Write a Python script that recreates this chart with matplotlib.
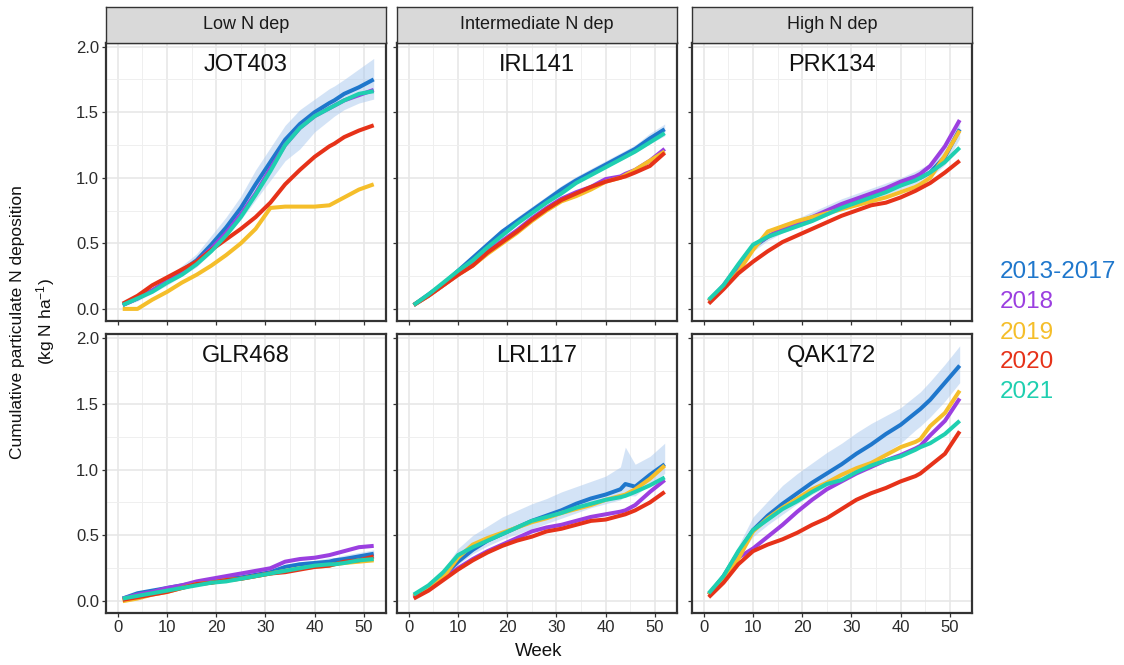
import numpy as np
import matplotlib.pyplot as plt
from matplotlib.ticker import MultipleLocator

plt.rcParams['font.family'] = ['Liberation Sans', 'DejaVu Sans']
plt.rcParams['mathtext.default'] = 'regular'

weeks = [1, 4, 7, 10, 13, 16, 19, 22, 25, 28, 31, 34, 37, 40, 43, 44, 46, 49, 52]

years = ['2013-2017', '2018', '2019', '2020', '2021']
year_colors = ['#1F77CC', '#9B3FE0', '#F5BE2A', '#E63219', '#1FCFB0']
strip_labels = ['Low N dep', 'Intermediate N dep', 'High N dep']
sites = [['JOT403', 'IRL141', 'PRK134'],
         ['GLR468', 'LRL117', 'QAK172']]

# JOT403
jot403_2013_2017 = [0.03, 0.08, 0.14, 0.21, 0.29, 0.37, 0.49, 0.62, 0.77, 0.95, 1.12, 1.29, 1.41, 1.50, 1.57, 1.59, 1.64, 1.69, 1.75]
jot403_2018 = [0.03, 0.08, 0.14, 0.21, 0.28, 0.36, 0.46, 0.58, 0.72, 0.88, 1.07, 1.25, 1.38, 1.47, 1.53, 1.55, 1.59, 1.63, 1.67]
jot403_2019 = [0.00, 0.00, 0.07, 0.13, 0.20, 0.26, 0.33, 0.41, 0.50, 0.61, 0.77, 0.78, 0.78, 0.78, 0.79, 0.81, 0.85, 0.91, 0.95]
jot403_2020 = [0.04, 0.10, 0.18, 0.24, 0.30, 0.36, 0.45, 0.53, 0.61, 0.70, 0.81, 0.95, 1.06, 1.16, 1.24, 1.26, 1.31, 1.36, 1.40]
jot403_2021 = [0.03, 0.08, 0.13, 0.20, 0.26, 0.34, 0.44, 0.56, 0.70, 0.87, 1.05, 1.25, 1.38, 1.47, 1.53, 1.55, 1.59, 1.64, 1.66]
jot403_lo = [0.02, 0.06, 0.12, 0.18, 0.25, 0.32, 0.43, 0.55, 0.68, 0.83, 0.98, 1.13, 1.22, 1.35, 1.44, 1.47, 1.52, 1.57, 1.60]
jot403_hi = [0.04, 0.10, 0.16, 0.24, 0.33, 0.42, 0.56, 0.70, 0.86, 1.06, 1.23, 1.40, 1.52, 1.60, 1.68, 1.70, 1.75, 1.83, 1.91]

# IRL141
irl141_2013_2017 = [0.03, 0.11, 0.19, 0.29, 0.39, 0.49, 0.59, 0.67, 0.75, 0.83, 0.91, 0.98, 1.04, 1.10, 1.16, 1.18, 1.22, 1.30, 1.37]
irl141_2018 = [0.03, 0.10, 0.18, 0.26, 0.34, 0.44, 0.52, 0.60, 0.69, 0.77, 0.84, 0.89, 0.93, 0.99, 1.01, 1.03, 1.06, 1.13, 1.22]
irl141_2019 = [0.03, 0.10, 0.18, 0.26, 0.33, 0.42, 0.50, 0.58, 0.67, 0.75, 0.82, 0.86, 0.91, 0.97, 1.00, 1.02, 1.06, 1.13, 1.20]
irl141_2020 = [0.03, 0.10, 0.18, 0.26, 0.33, 0.43, 0.51, 0.59, 0.68, 0.76, 0.83, 0.88, 0.93, 0.97, 1.00, 1.01, 1.04, 1.09, 1.19]
irl141_2021 = [0.03, 0.11, 0.20, 0.29, 0.37, 0.47, 0.56, 0.65, 0.73, 0.81, 0.88, 0.96, 1.02, 1.08, 1.14, 1.16, 1.20, 1.27, 1.34]
irl141_lo = [0.02, 0.10, 0.18, 0.27, 0.37, 0.47, 0.57, 0.65, 0.73, 0.81, 0.89, 0.96, 1.02, 1.08, 1.13, 1.15, 1.19, 1.26, 1.32]
irl141_hi = [0.04, 0.12, 0.20, 0.31, 0.41, 0.51, 0.61, 0.70, 0.78, 0.86, 0.94, 1.01, 1.07, 1.13, 1.19, 1.21, 1.25, 1.34, 1.41]

# PRK134
prk134_2013_2017 = [0.06, 0.17, 0.31, 0.47, 0.55, 0.61, 0.65, 0.69, 0.74, 0.79, 0.83, 0.87, 0.91, 0.95, 0.99, 1.00, 1.04, 1.16, 1.37]
prk134_2018 = [0.06, 0.18, 0.33, 0.48, 0.55, 0.61, 0.66, 0.70, 0.75, 0.80, 0.84, 0.88, 0.92, 0.97, 1.01, 1.03, 1.09, 1.24, 1.44]
prk134_2019 = [0.06, 0.16, 0.28, 0.45, 0.59, 0.63, 0.67, 0.70, 0.73, 0.76, 0.79, 0.82, 0.85, 0.89, 0.93, 0.95, 1.00, 1.17, 1.36]
prk134_2020 = [0.04, 0.15, 0.27, 0.36, 0.44, 0.51, 0.56, 0.61, 0.66, 0.71, 0.75, 0.79, 0.81, 0.85, 0.90, 0.92, 0.96, 1.04, 1.13]
prk134_2021 = [0.07, 0.18, 0.34, 0.49, 0.55, 0.59, 0.63, 0.67, 0.72, 0.77, 0.81, 0.85, 0.89, 0.94, 0.98, 1.00, 1.04, 1.12, 1.23]
prk134_lo = [0.05, 0.15, 0.29, 0.44, 0.52, 0.58, 0.62, 0.66, 0.71, 0.75, 0.79, 0.83, 0.87, 0.91, 0.95, 0.96, 1.00, 1.10, 1.30]
prk134_hi = [0.07, 0.19, 0.34, 0.50, 0.59, 0.65, 0.69, 0.74, 0.79, 0.84, 0.88, 0.92, 0.96, 1.00, 1.05, 1.07, 1.11, 1.22, 1.42]

# GLR468
glr468_2013_2017 = [0.02, 0.06, 0.08, 0.10, 0.12, 0.14, 0.15, 0.17, 0.18, 0.20, 0.22, 0.26, 0.28, 0.29, 0.30, 0.31, 0.32, 0.34, 0.36]
glr468_2018 = [0.02, 0.05, 0.07, 0.10, 0.12, 0.15, 0.17, 0.19, 0.21, 0.23, 0.25, 0.30, 0.32, 0.33, 0.35, 0.36, 0.38, 0.41, 0.42]
glr468_2019 = [0.00, 0.02, 0.05, 0.07, 0.10, 0.13, 0.14, 0.16, 0.17, 0.19, 0.21, 0.23, 0.25, 0.26, 0.27, 0.28, 0.29, 0.30, 0.31]
glr468_2020 = [0.01, 0.03, 0.05, 0.07, 0.10, 0.13, 0.14, 0.16, 0.17, 0.19, 0.21, 0.22, 0.24, 0.26, 0.27, 0.28, 0.30, 0.31, 0.34]
glr468_2021 = [0.02, 0.04, 0.06, 0.08, 0.10, 0.12, 0.14, 0.15, 0.17, 0.19, 0.21, 0.23, 0.25, 0.27, 0.28, 0.28, 0.29, 0.31, 0.32]
glr468_lo = [0.01, 0.05, 0.07, 0.09, 0.11, 0.12, 0.14, 0.15, 0.16, 0.18, 0.20, 0.23, 0.25, 0.27, 0.28, 0.28, 0.29, 0.31, 0.33]
glr468_hi = [0.03, 0.07, 0.09, 0.11, 0.13, 0.15, 0.17, 0.19, 0.20, 0.22, 0.24, 0.28, 0.30, 0.31, 0.33, 0.33, 0.35, 0.37, 0.39]

# LRL117
lrl117_2013_2017 = [0.04, 0.10, 0.19, 0.30, 0.39, 0.46, 0.51, 0.56, 0.61, 0.65, 0.69, 0.74, 0.78, 0.81, 0.85, 0.89, 0.87, 0.96, 1.04]
lrl117_2018 = [0.03, 0.10, 0.17, 0.25, 0.32, 0.38, 0.43, 0.48, 0.53, 0.56, 0.58, 0.61, 0.64, 0.66, 0.68, 0.69, 0.73, 0.83, 0.92]
lrl117_2019 = [0.04, 0.11, 0.18, 0.33, 0.43, 0.48, 0.52, 0.56, 0.60, 0.63, 0.67, 0.70, 0.73, 0.77, 0.80, 0.81, 0.85, 0.93, 1.03]
lrl117_2020 = [0.02, 0.08, 0.16, 0.24, 0.31, 0.37, 0.42, 0.46, 0.49, 0.53, 0.55, 0.58, 0.61, 0.62, 0.65, 0.66, 0.69, 0.75, 0.83]
lrl117_2021 = [0.05, 0.12, 0.22, 0.35, 0.41, 0.46, 0.51, 0.56, 0.61, 0.64, 0.67, 0.71, 0.74, 0.77, 0.79, 0.80, 0.83, 0.88, 0.94]
lrl117_lo = [0.03, 0.09, 0.17, 0.28, 0.36, 0.42, 0.47, 0.51, 0.55, 0.59, 0.63, 0.67, 0.71, 0.74, 0.77, 0.80, 0.80, 0.89, 0.97]
lrl117_hi = [0.05, 0.12, 0.24, 0.40, 0.50, 0.57, 0.64, 0.69, 0.74, 0.78, 0.83, 0.87, 0.91, 0.95, 1.02, 1.17, 1.04, 1.10, 1.20]

# QAK172
qak172_2013_2017 = [0.05, 0.19, 0.37, 0.54, 0.65, 0.74, 0.82, 0.90, 0.97, 1.04, 1.12, 1.19, 1.27, 1.34, 1.43, 1.46, 1.53, 1.66, 1.79]
qak172_2018 = [0.05, 0.18, 0.33, 0.40, 0.49, 0.58, 0.68, 0.77, 0.85, 0.91, 0.97, 1.02, 1.07, 1.11, 1.16, 1.18, 1.26, 1.37, 1.54]
qak172_2019 = [0.05, 0.18, 0.32, 0.53, 0.63, 0.71, 0.78, 0.85, 0.90, 0.96, 1.01, 1.05, 1.11, 1.17, 1.21, 1.23, 1.33, 1.43, 1.60]
qak172_2020 = [0.03, 0.14, 0.28, 0.38, 0.43, 0.47, 0.52, 0.58, 0.63, 0.70, 0.77, 0.82, 0.86, 0.91, 0.95, 0.97, 1.03, 1.12, 1.29]
qak172_2021 = [0.06, 0.19, 0.38, 0.54, 0.62, 0.70, 0.76, 0.83, 0.89, 0.92, 0.98, 1.03, 1.07, 1.10, 1.15, 1.17, 1.20, 1.27, 1.37]
qak172_lo = [0.04, 0.16, 0.33, 0.49, 0.58, 0.66, 0.74, 0.81, 0.87, 0.93, 0.99, 1.06, 1.13, 1.20, 1.30, 1.33, 1.40, 1.52, 1.66]
qak172_hi = [0.06, 0.22, 0.42, 0.64, 0.76, 0.88, 0.97, 1.05, 1.13, 1.20, 1.28, 1.35, 1.41, 1.47, 1.56, 1.59, 1.67, 1.80, 1.94]

panel_data = {
    'JOT403': ([jot403_2013_2017, jot403_2018, jot403_2019, jot403_2020, jot403_2021], jot403_lo, jot403_hi),
    'IRL141': ([irl141_2013_2017, irl141_2018, irl141_2019, irl141_2020, irl141_2021], irl141_lo, irl141_hi),
    'PRK134': ([prk134_2013_2017, prk134_2018, prk134_2019, prk134_2020, prk134_2021], prk134_lo, prk134_hi),
    'GLR468': ([glr468_2013_2017, glr468_2018, glr468_2019, glr468_2020, glr468_2021], glr468_lo, glr468_hi),
    'LRL117': ([lrl117_2013_2017, lrl117_2018, lrl117_2019, lrl117_2020, lrl117_2021], lrl117_lo, lrl117_hi),
    'QAK172': ([qak172_2013_2017, qak172_2018, qak172_2019, qak172_2020, qak172_2021], qak172_lo, qak172_hi),
}

W, H = 1124, 665
fig = plt.figure(figsize=(W / 100, H / 100), dpi=100)

col_left = [106, 397, 692]
panel_w = 280
row_top = [42.7, 334]
panel_h = [278, 279]
dark = '#333333'

for r in range(2):
    for c in range(3):
        site = sites[r][c]
        lines, lo, hi = panel_data[site]
        ax = fig.add_axes([col_left[c] / W, 1 - (row_top[r] + panel_h[r]) / H,
                           panel_w / W, panel_h[r] / H])
        ax.fill_between(weeks, lo, hi, color='#A9C8EE', alpha=0.5, lw=0, zorder=2)
        for vals, col in zip(lines, year_colors):
            ax.plot(weeks, vals, color=col, lw=2.9, solid_capstyle='butt',
                    solid_joinstyle='round', zorder=3)
        ax.set_xlim(-2.4, 54.5)
        ax.set_ylim(-0.09, 2.03)
        ax.xaxis.set_major_locator(MultipleLocator(10))
        ax.xaxis.set_minor_locator(MultipleLocator(5))
        ax.yaxis.set_major_locator(MultipleLocator(0.5))
        ax.yaxis.set_minor_locator(MultipleLocator(0.25))
        ax.grid(which='major', color='#E6E6E6', lw=1.1, zorder=0)
        ax.grid(which='minor', color='#EFEFEF', lw=0.7, zorder=0)
        ax.set_axisbelow(True)
        ax.tick_params(which='major', length=3, width=0.9, color=dark,
                       labelsize=12, labelcolor='#2B2B2B', pad=2)
        ax.tick_params(which='minor', length=0)
        ax.yaxis.set_major_formatter(plt.FuncFormatter(lambda v, p: f'{v:.1f}'))
        if c > 0:
            ax.tick_params(labelleft=False)
        if r == 0:
            ax.tick_params(labelbottom=False)
        for sp in ax.spines.values():
            sp.set_color(dark)
            sp.set_linewidth(1.6)
        ax.text(0.5, 1 - 22 / panel_h[r], site, transform=ax.transAxes,
                ha='center', va='center', fontsize=17, color='#111111', zorder=5)

        if r == 0:
            sax = fig.add_axes([col_left[c] / W, 1 - row_top[r] / H,
                                panel_w / W, 35.5 / H])
            sax.set_facecolor('#D9D9D9')
            sax.set_xticks([])
            sax.set_yticks([])
            for sp in sax.spines.values():
                sp.set_color(dark)
                sp.set_linewidth(1.0)
            sax.text(0.5, 0.5, strip_labels[c], ha='center', va='center',
                     fontsize=13, color='#1A1A1A', transform=sax.transAxes)

# axis titles
fig.text(18 / W, 1 - 322 / H, 'Cumulative particulate N deposition',
         rotation=90, ha='center', va='center', fontsize=12.5, color='#111111')
fig.text(46 / W, 1 - 322 / H, '(kg N ha$^{-1}$)',
         rotation=90, ha='center', va='center', fontsize=12.5, color='#111111')
fig.text(539 / W, 1 - 652 / H, 'Week', ha='center', va='center',
         fontsize=13.5, color='#111111')

# legend as coloured labels
legend_y = [272, 302, 333, 362, 392]
for lab, col, yy in zip(years, year_colors, legend_y):
    fig.text(1000 / W, 1 - yy / H, lab, color=col, fontsize=17.5,
             ha='left', va='center')

fig.savefig('out.png', dpi=100)
